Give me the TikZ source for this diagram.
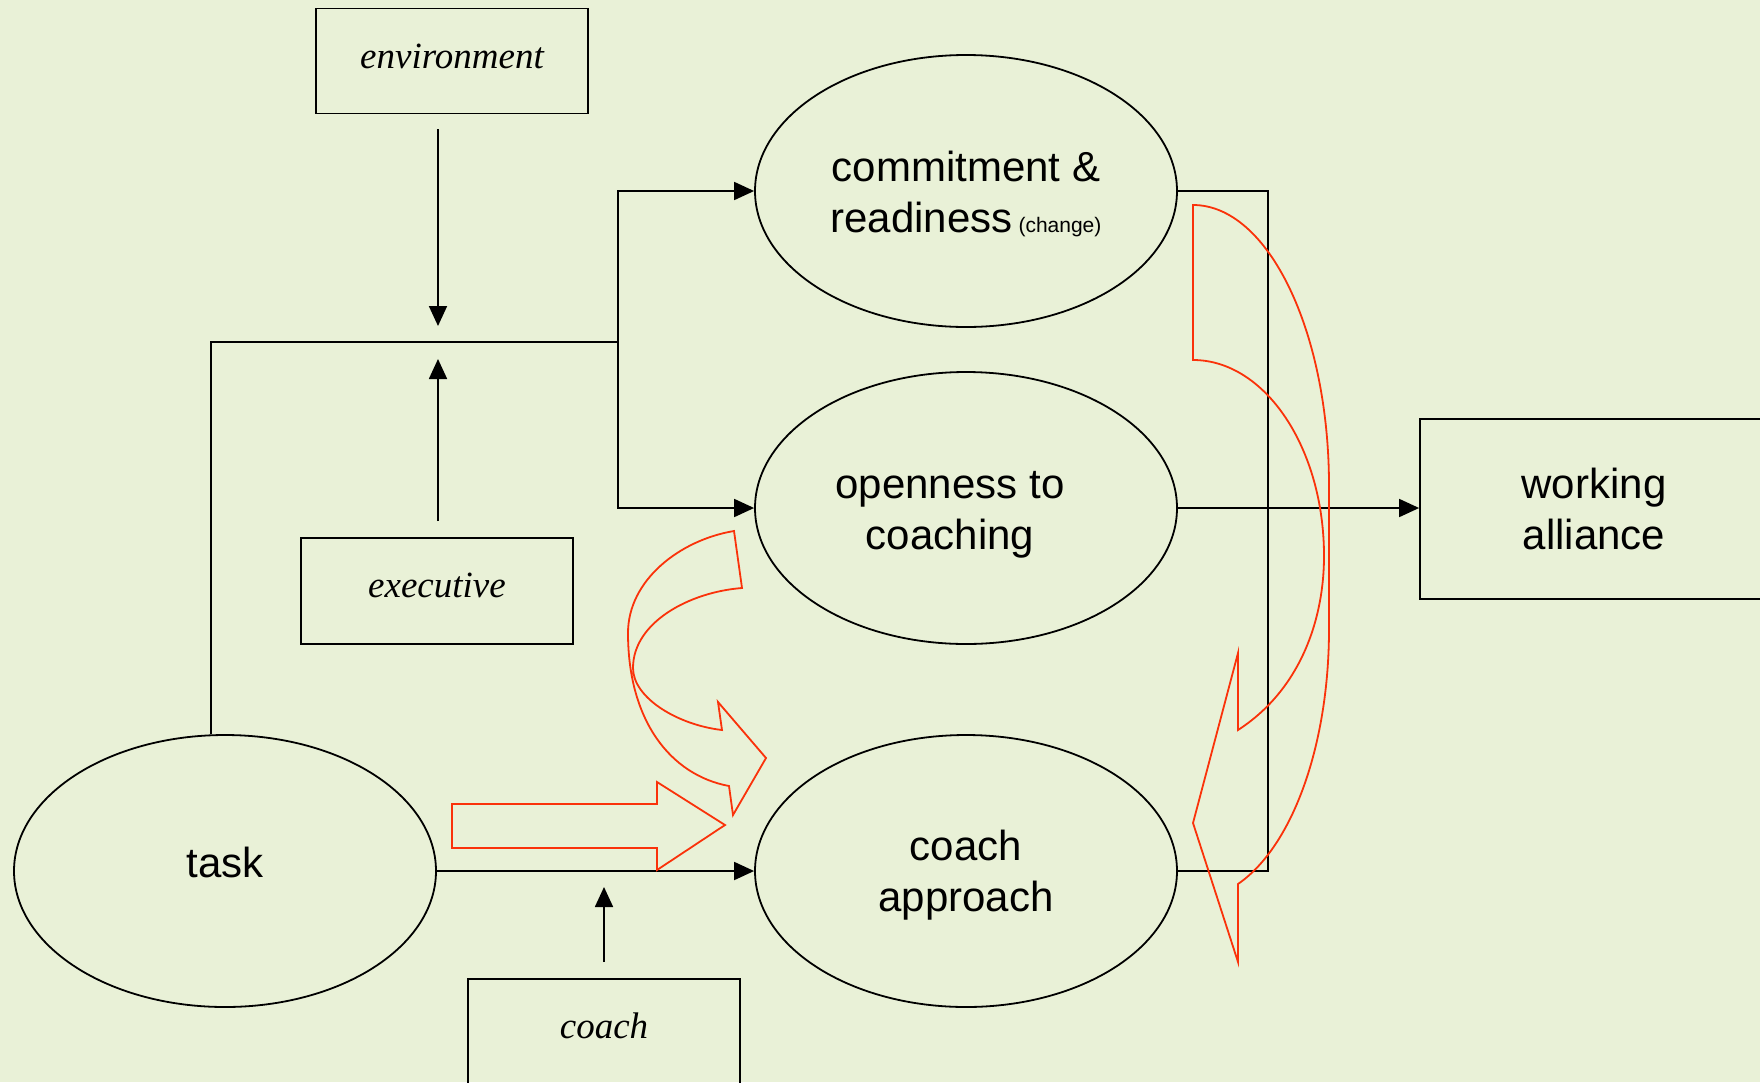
\documentclass[tikz,border=0pt]{standalone}
\usepackage{fontspec}
\setmainfont{Liberation Sans}
\newfontfamily\boxfont{Liberation Serif}
\usetikzlibrary{shapes.geometric, arrows.meta}
\definecolor{slidebg}{RGB}{233,241,215}
\definecolor{hintred}{RGB}{250,50,10}

\begin{document}
\begin{tikzpicture}[x=1pt, y=-1pt, >={Triangle[length=20pt,width=18pt]},
  every node/.style={font=\fontsize{42}{50.5}\selectfont},
  oval/.style={ellipse, draw, line width=1.8pt, minimum width=422pt, minimum height=272pt, inner sep=0pt},
  ovaltext/.style={inner sep=0pt, align=center},
  factor/.style={rectangle, draw, line width=1.8pt, minimum width=272pt, inner ysep=0pt, text height=59.5pt, font=\fontsize{37}{44}\selectfont\boxfont\itshape},
  link/.style={line width=1.8pt},
  hint/.style={draw=hintred, line width=1.8pt, line join=miter}]

% Slide background
\clip (0,0) rectangle (1760,1082);
\fill[slidebg] (0,0) rectangle (1760,1082);

% Context boxes
\node[factor, text depth=45.5pt] at (452,61) (env) {environment};
\node[factor, text depth=46.5pt] at (437,591) (exec) {executive};
\node[factor, text depth=130pt, anchor=north] at (604,978) (coach) {coach};

% Ovals
\node[oval] at (225,871) (task) {};
\node[oval] at (966,191) (commit) {};
\node[oval] at (966,508) (open) {};
\node[oval] at (966,871) (approach) {};

% Oval texts
\node[ovaltext] at ([yshift=9]task) (task-t) {task};
\node[ovaltext] at ([yshift=-3]commit) (commit-t) {commitment \&\\readiness{\fontsize{21}{25}\selectfont\ (change)}};
\node[ovaltext] at ([xshift=-16,yshift=-7]open) (open-t) {openness to\\coaching};
\node[ovaltext] at ([yshift=-4]approach) (approach-t) {coach\\approach};

% Outcome
\node[rectangle, draw, line width=1.8pt, minimum width=348pt, minimum height=180pt, align=center] at (1594,509) (alliance) {working\\alliance};

% Junctions
\coordinate (hub) at (438,342);
\coordinate (fork) at (618,342);
\coordinate (rail) at (1268,508);

% Connections: task up and over to the ovals
\draw[link] (task.96) |- (fork);
\draw[link,->] (fork) |- (commit);
\draw[link,->] (fork) |- (open);
\draw[link,->] (task) -- (approach);

% Connections: context boxes onto the lines
\draw[link,->,shorten <=15pt,shorten >=16pt] (env.south -| hub) -- (hub);
\draw[link,->,shorten <=16pt,shorten >=17pt] (exec.north -| hub) -- (hub);
\draw[link,->,shorten <=16pt,shorten >=16pt] (coach.north) -- (coach.north |- task);

% Connections: ovals to working alliance
\draw[link] (commit.east) -| (rail) |- (approach.east);
\draw[link,->] (open) -- (open -| alliance.west);

% Red block arrows
\draw[hint] (452,804) -- (657,804) -- (657,782) -- (725,825) -- (657,870) -- (657,848) -- (452,848) -- cycle;
\draw[hint] (734,531) .. controls (680,540) and (628,580) .. (628,633)
  .. controls (628,720) and (670,775) .. (729,786)
  -- (733,815) -- (766,758) -- (718,702) -- (722,730)
  .. controls (678,725) and (633,698) .. (633,668)
  .. controls (633,622) and (690,592) .. (742,588) -- cycle;
\draw[hint] (1193,205) .. controls (1268,205) and (1329,331) .. (1329,486)
  -- (1329,629) .. controls (1329,744) and (1293,846) .. (1238,884)
  -- (1238,962) -- (1193,823) -- (1238,653) -- (1238,730)
  .. controls (1300,690) and (1324,620) .. (1324,556)
  .. controls (1324,448) and (1265,360) .. (1193,360) -- cycle;
\end{tikzpicture}
\end{document}
